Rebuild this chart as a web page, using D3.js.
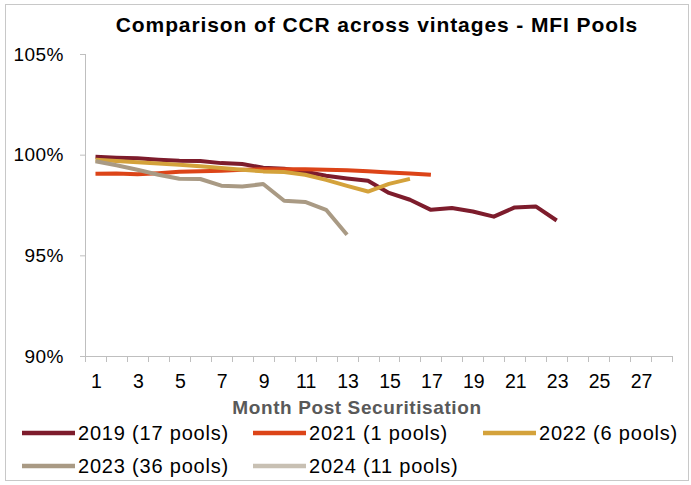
<!DOCTYPE html>
<html>
<head>
<meta charset="utf-8">
<script src="https://cdn.jsdelivr.net/npm/d3@7"></script>
<style>
  body { margin: 0; background: #fff; }
  svg text { font-family: "Liberation Sans", Arial, sans-serif; }
</style>
</head>
<body>
<div id="chart"></div>
<script>
// months on the x axis (1..28), labels every other month
let months = d3.range(1, 29);
let yTicks = [90, 95, 100, 105];

// CCR (%) by month post securitisation
let ccr2019 = [99.9, 99.85, 99.82, 99.75, 99.7, 99.68, 99.58, 99.54, 99.35, 99.3, 99.15, 98.95, 98.82, 98.7, 98.1, 97.76, 97.26, 97.35, 97.18, 96.92, 97.38, 97.43, 96.73];
let ccr2021 = [99.05, 99.06, 99.03, 99.08, 99.15, 99.18, 99.2, 99.25, 99.27, 99.28, 99.28, 99.25, 99.22, 99.18, 99.12, 99.07, 99.0];
let ccr2022 = [99.75, 99.68, 99.62, 99.56, 99.5, 99.42, 99.34, 99.25, 99.17, 99.14, 99.0, 98.75, 98.45, 98.17, 98.55, 98.8];
let ccr2023 = [99.67, 99.47, 99.25, 99.0, 98.8, 98.79, 98.46, 98.42, 98.54, 97.71, 97.65, 97.26, 96.02];
let ccr2024 = [99.7];

let seriesNames = ["2019 (17 pools)", "2021 (1 pools)", "2022 (6 pools)", "2023 (36 pools)", "2024 (11 pools)"];
let seriesColors = ["#7d1c2c", "#dc4418", "#d4a23b", "#a99a84", "#c8c0b3"];
let seriesData = [ccr2019, ccr2021, ccr2022, ccr2023, ccr2024];

let w = 691, h = 485;
let plotLeft = 85, plotRight = 672, plotTop = 54, plotBottom = 356;

let svg = d3.select("#chart").append("svg")
    .attr("width", w)
    .attr("height", h);

// outer frame
svg.append("rect")
    .attr("x", 5.5).attr("y", 4.5)
    .attr("width", 683).attr("height", 476)
    .attr("fill", "none")
    .attr("stroke", "#c8c8c8");

let x = d3.scaleBand().domain(months).range([plotLeft, plotRight]);
let y = d3.scaleLinear().domain([90, 105]).range([plotBottom, plotTop]);

// y axis
let yAxis = svg.append("g")
    .attr("transform", "translate(" + plotLeft + ",0)")
    .call(d3.axisLeft(y).tickValues(yTicks).tickSize(5).tickPadding(16)
        .tickFormat(function(d) { return d + "%"; }));
yAxis.selectAll("path, line").attr("stroke", "#bfbfbf");
yAxis.select(".domain").attr("d", "M0.5," + plotTop + "V" + plotBottom);
yAxis.selectAll("text")
    .attr("font-size", "19px")
    .attr("letter-spacing", "0.5px")
    .attr("fill", "#000");

// x axis: ticks at band boundaries, labels on odd months
let xAxis = svg.append("g").attr("transform", "translate(0," + plotBottom + ")");
xAxis.append("line")
    .attr("x1", plotLeft).attr("x2", plotRight)
    .attr("y1", 0.5).attr("y2", 0.5)
    .attr("stroke", "#bfbfbf");
xAxis.selectAll("line.tick")
    .data(months.concat([29]))
    .enter()
    .append("line")
    .attr("class", "tick")
    .attr("x1", function(d) { return Math.round(plotLeft + (d - 1) * x.step()) + 0.5; })
    .attr("x2", function(d) { return Math.round(plotLeft + (d - 1) * x.step()) + 0.5; })
    .attr("y1", 0).attr("y2", 6)
    .attr("stroke", "#bfbfbf");
xAxis.selectAll("text")
    .data(months.filter(function(d) { return d % 2 === 1; }))
    .enter()
    .append("text")
    .attr("x", function(d) { return x(d) + x.bandwidth() / 2 + 1; })
    .attr("y", 32)
    .attr("text-anchor", "middle")
    .attr("font-size", "19.5px")
    .text(function(d) { return d; });

// lines
let line = d3.line()
    .x(function(d, i) { return x(i + 1) + x.bandwidth() / 2; })
    .y(function(d) { return y(d); });

svg.selectAll("path.series")
    .data(seriesData)
    .enter()
    .append("path")
    .attr("class", "series")
    .attr("d", line)
    .attr("fill", "none")
    .attr("stroke", function(d, i) { return seriesColors[i]; })
    .attr("stroke-width", 4)
    .attr("stroke-linejoin", "round");

// title
svg.append("text")
    .attr("x", 377).attr("y", 32)
    .attr("text-anchor", "middle")
    .attr("font-size", "21px")
    .attr("font-weight", "bold")
    .attr("letter-spacing", "0.9px")
    .text("Comparison of CCR across vintages - MFI Pools");

// axis title
svg.append("text")
    .attr("x", 357).attr("y", 414)
    .attr("text-anchor", "middle")
    .attr("font-size", "19px")
    .attr("font-weight", "bold")
    .attr("letter-spacing", "0.6px")
    .attr("fill", "#595959")
    .text("Month Post Securitisation");

// legend
let legendX = [22, 253, 483];
let legend = svg.selectAll("g.legend")
    .data(seriesNames)
    .enter()
    .append("g")
    .attr("class", "legend")
    .attr("transform", function(d, i) {
        return "translate(" + legendX[i % 3] + "," + (433 + Math.floor(i / 3) * 33) + ")";
    });
legend.append("line")
    .attr("x1", 0).attr("x2", 53)
    .attr("y1", 0).attr("y2", 0)
    .attr("stroke", function(d, i) { return seriesColors[i]; })
    .attr("stroke-width", 4.5);
legend.append("text")
    .attr("x", 56).attr("y", 7)
    .attr("font-size", "20px")
    .attr("letter-spacing", "0.8px")
    .text(function(d) { return d; });
</script>
</body>
</html>
